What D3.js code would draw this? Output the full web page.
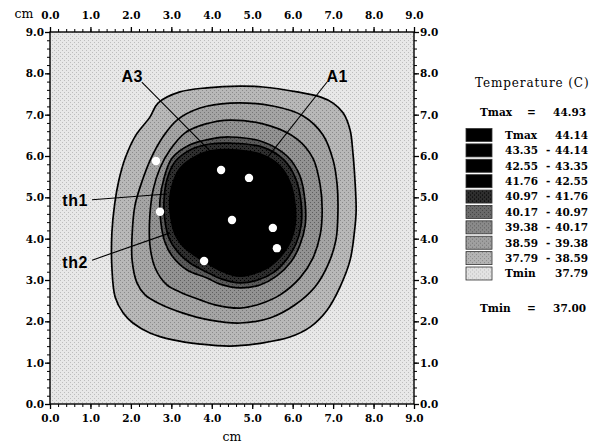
<!DOCTYPE html>
<html>
<head>
<meta charset="utf-8">
<script src="https://cdn.jsdelivr.net/npm/d3@7"></script>
<style>
  body { margin: 0; background: #fff; }
  svg text { font-family: "DejaVu Serif", serif; }
</style>
</head>
<body>
<svg id="chart" width="599" height="445"></svg>
<script>
// axis ticks (cm)
var majorTicks = [0, 1, 2, 3, 4, 5, 6, 7, 8, 9];
var minorTicks = d3.range(0, 45).map(function (i) { return i / 5; });

// contour levels (C) and the boundary of each one, in cm
var levels = [37.79, 38.59, 39.38, 40.17, 40.97, 41.76];

var c3779 = [[2.47,6.94],[2.67,7.28],[3.21,7.55],[3.88,7.65],[4.70,7.69],[5.27,7.67],[6.11,7.55],[6.68,7.43],
  [7.00,7.28],[7.25,7.04],[7.42,6.63],[7.49,6.07],[7.54,5.42],[7.57,4.69],[7.54,4.28],[7.42,3.48],[7.17,2.83],
  [6.85,2.27],[6.43,1.86],[5.93,1.62],[5.27,1.48],[4.45,1.40],[3.71,1.45],[3.04,1.55],[2.47,1.72],[2.05,1.96],
  [1.81,2.20],[1.61,2.59],[1.53,3.31],[1.53,4.14],[1.60,4.85],[1.70,5.40],[1.86,5.95],[2.12,6.50]];
var c3859 = [[2.79,6.46],[3.14,6.87],[3.71,7.16],[4.45,7.28],[5.51,7.21],[6.26,6.97],[6.75,6.51],[7.00,5.90],
  [7.10,5.30],[7.12,4.69],[7.07,3.97],[6.87,3.36],[6.55,2.83],[6.06,2.40],[5.44,2.08],[4.70,1.96],[3.96,2.03],
  [3.29,2.20],[2.72,2.42],[2.35,2.64],[2.15,2.93],[2.03,3.48],[2.03,4.09],[2.10,4.80],[2.28,5.40],[2.50,5.95]];
var c3938 = [[2.97,6.15],[3.34,6.56],[3.83,6.77],[4.45,6.87],[5.44,6.73],[6.11,6.41],[6.50,5.95],[6.68,5.30],
  [6.73,4.69],[6.68,4.09],[6.50,3.53],[6.18,3.05],[5.69,2.64],[5.19,2.42],[4.70,2.32],[4.08,2.40],[3.71,2.52],
  [3.21,2.71],[2.89,2.88],[2.60,3.29],[2.47,3.85],[2.47,4.57],[2.55,5.18],[2.72,5.71]];
var c4017 = [[3.02,5.95],[3.46,6.27],[3.96,6.41],[4.45,6.46],[5.27,6.34],[5.86,6.00],[6.18,5.52],[6.31,4.86],
  [6.31,4.33],[6.18,3.85],[5.96,3.44],[5.61,3.10],[5.19,2.88],[4.70,2.81],[4.20,2.90],[3.88,3.05],[3.39,3.24],
  [3.02,3.58],[2.84,3.92],[2.74,4.40],[2.72,4.94],[2.82,5.47]];
var c4097 = [[3.09,5.86],[3.51,6.17],[3.96,6.29],[4.45,6.31],[5.24,6.22],[5.79,5.90],[6.08,5.44],[6.21,4.86],
  [6.21,4.33],[6.08,3.87],[5.86,3.51],[5.54,3.19],[5.14,3.00],[4.70,2.93],[4.25,3.02],[3.88,3.19],[3.46,3.41],
  [3.14,3.70],[2.94,4.02],[2.84,4.45],[2.82,4.94],[2.89,5.42]];
var c4176 = [[3.21,5.73],[3.61,6.02],[4.01,6.15],[4.50,6.17],[5.19,6.07],[5.69,5.78],[5.96,5.35],[6.08,4.81],
  [6.08,4.33],[5.96,3.92],[5.74,3.58],[5.44,3.31],[5.09,3.15],[4.70,3.07],[4.30,3.17],[3.96,3.34],[3.59,3.56],
  [3.26,3.82],[3.07,4.11],[2.97,4.50],[2.94,4.94],[3.02,5.35]];
var contours = [c3779, c3859, c3938, c4017, c4097, c4176];

// measuring points (cm)
var probes = [[2.62,5.88],[4.23,5.66],[4.92,5.47],[2.72,4.65],[4.50,4.45],[5.51,4.26],[5.61,3.77],[3.81,3.46]];

// labelled probes: text position, pointer start, pointer end (cm)
var annNames = ["A3", "A1", "th1", "th2"];
var annText  = [[2.03,7.94],[7.10,7.94],[0.62,4.94],[0.62,3.44]];
var annFrom  = [[2.27,7.79],[6.85,7.79],[1.04,4.94],[1.04,3.48]];
var annTo    = [[3.96,6.12],[5.19,5.73],[2.89,5.08],[2.97,4.14]];

// legend
var tMax = "44.93", tMin = "37.00";
var legendLow  = ["Tmax","43.35","42.55","41.76","40.97","40.17","39.38","38.59","37.79","Tmin"];
var legendHigh = ["44.14","44.14","43.35","42.55","41.76","40.97","40.17","39.38","38.59","37.79"];

// fills: background, then one per level region
var bgFill = ["#e8e8e8", "#bdbdbd"];
var ringFill = [["#b8b8b8","#8a8a8a"],["#a4a4a4","#767676"],["#929292","#5e5e5e"],
                ["#5a5a5a","#2e2e2e"],["#2e2e2e","#000"],["#000","#000"]];
var legendFill = [["#000","#000"],["#000","#000"],["#000","#000"],["#000","#000"],["#2e2e2e","#000"],
                  ["#6a6a6a","#444"],["#8a8a8a","#5e5e5e"],["#a0a0a0","#767676"],["#b4b4b4","#8a8a8a"],["#e2e2e2","#bbb"]];

var svg = d3.select("#chart");
var x = d3.scaleLinear().domain([0, 9]).range([50, 414]);
var y = d3.scaleLinear().domain([0, 9]).range([404, 32]);

var defs = svg.append("defs");
function stipple(id, c) {
    var p = defs.append("pattern").attr("id", id).attr("patternUnits", "userSpaceOnUse")
        .attr("width", 4).attr("height", 4);
    p.append("rect").attr("width", 4).attr("height", 4).attr("fill", c[0]);
    p.append("rect").attr("x", 0).attr("y", 0).attr("width", 1).attr("height", 1).attr("fill", c[1]);
    p.append("rect").attr("x", 2).attr("y", 2).attr("width", 1).attr("height", 1).attr("fill", c[1]);
    return "url(#" + id + ")";
}
defs.append("clipPath").attr("id", "plotclip").append("rect")
    .attr("x", x(0)).attr("y", y(9)).attr("width", x(9) - x(0)).attr("height", y(0) - y(9));

// plot background
svg.append("rect")
    .attr("x", x(0)).attr("y", y(9))
    .attr("width", x(9) - x(0)).attr("height", y(0) - y(9))
    .attr("fill", stipple("bg", bgFill));

var line = d3.line()
    .x(function (d) { return x(d[0]); })
    .y(function (d) { return y(d[1]); })
    .curve(d3.curveCatmullRomClosed.alpha(0.5));

var plot = svg.append("g").attr("clip-path", "url(#plotclip)");

plot.selectAll("path.region")
    .data(contours)
    .enter().append("path")
    .attr("class", "region")
    .attr("d", line)
    .attr("fill", function (d, i) { return stipple("ring" + i, ringFill[i]); })
    .attr("stroke", function (d, i) { return i < 5 ? "#000" : "none"; })
    .attr("stroke-width", 1.7);

plot.selectAll("circle.probe")
    .data(probes)
    .enter().append("circle")
    .attr("class", "probe")
    .attr("cx", function (d) { return x(d[0]); })
    .attr("cy", function (d) { return y(d[1]); })
    .attr("r", 4.2)
    .attr("fill", "#fff");

// pointers and names
plot.selectAll("line.pointer")
    .data(annNames)
    .enter().append("line")
    .attr("class", "pointer")
    .attr("x1", function (d, i) { return x(annFrom[i][0]); })
    .attr("y1", function (d, i) { return y(annFrom[i][1]); })
    .attr("x2", function (d, i) { return x(annTo[i][0]); })
    .attr("y2", function (d, i) { return y(annTo[i][1]); })
    .attr("stroke", "#000")
    .attr("stroke-width", 1.1);

svg.selectAll("text.ann")
    .data(annNames)
    .enter().append("text")
    .attr("class", "ann")
    .attr("x", function (d, i) { return x(annText[i][0]); })
    .attr("y", function (d, i) { return y(annText[i][1]); })
    .attr("dy", "0.36em")
    .attr("text-anchor", "middle")
    .style("font-family", "'Liberation Sans', Arial, sans-serif")
    .style("font-weight", "bold")
    .style("font-size", "16px")
    .style("letter-spacing", "0.5px")
    .text(function (d) { return d; });

// frame and axes
svg.append("rect")
    .attr("x", x(0)).attr("y", y(9))
    .attr("width", x(9) - x(0)).attr("height", y(0) - y(9))
    .attr("fill", "none").attr("stroke", "#000").attr("stroke-width", 1.4);

var fmt = d3.format(".1f");
function addAxis(axisFn, tr, pad) {
    var minor = svg.append("g").attr("transform", tr)
        .call(axisFn.tickValues(minorTicks).tickSize(3).tickFormat(""));
    minor.select(".domain").remove();
    var major = svg.append("g").attr("transform", tr)
        .call(axisFn.tickValues(majorTicks).tickSize(5).tickPadding(pad).tickFormat(fmt));
    major.select(".domain").remove();
    major.selectAll("text")
        .style("font-family", "'DejaVu Serif', serif")
        .style("font-weight", "bold")
        .style("font-size", "10.5px")
        .attr("fill", "#000");
    major.selectAll("line, path").attr("stroke-width", 1.3);
    minor.selectAll("line").attr("stroke-width", 1);
}
addAxis(d3.axisBottom(x), "translate(0," + y(0) + ")", 6);
addAxis(d3.axisTop(x), "translate(0," + y(9) + ")", 8);
addAxis(d3.axisLeft(y), "translate(" + x(0) + ",0)", 1);
addAxis(d3.axisRight(y), "translate(" + x(9) + ",0)", 1);

svg.append("text").attr("x", 232).attr("y", 441).attr("text-anchor", "middle")
    .style("font-size", "12.5px").text("cm");
svg.append("text").attr("x", 24).attr("y", 18).attr("text-anchor", "middle")
    .style("font-size", "12.5px").text("cm");

// legend
var lg = svg.append("g");
lg.append("text").attr("x", 475).attr("y", 87)
    .style("font-size", "12px").style("letter-spacing", "0.9px")
    .text("Temperature (C)");

function bold(t, xx, yy, anchor) {
    return lg.append("text").attr("x", xx).attr("y", yy).attr("text-anchor", anchor || "start")
        .attr("dy", "0.36em")
        .style("font-weight", "bold").style("font-size", "10.5px").text(t);
}
bold("Tmax", 480, 112);
bold("=", 527, 112);
bold(tMax, 586, 112, "end");
bold("Tmin", 480, 308);
bold("=", 527, 308);
bold(tMin, 586, 308, "end");

var rowY = d3.scaleLinear().domain([0, 9]).range([135, 273.5]);
var rows = lg.selectAll("g.row")
    .data(legendLow)
    .enter().append("g")
    .attr("class", "row")
    .attr("transform", function (d, i) { return "translate(0," + rowY(i) + ")"; });

rows.append("rect")
    .attr("x", 466).attr("y", -6.5).attr("width", 26).attr("height", 13)
    .attr("fill", function (d, i) { return stipple("leg" + i, legendFill[i]); })
    .attr("stroke", "#333").attr("stroke-width", 0.8);

rows.append("text")
    .attr("x", function (d) { return d === "Tmax" || d === "Tmin" ? 505 : 538; })
    .attr("text-anchor", function (d) { return d === "Tmax" || d === "Tmin" ? "start" : "end"; })
    .attr("dy", "0.36em")
    .style("font-weight", "bold").style("font-size", "10.5px")
    .text(function (d) { return d; });

rows.append("text")
    .attr("x", 546).attr("dy", "0.36em")
    .style("font-weight", "bold").style("font-size", "10.5px")
    .text(function (d) { return d === "Tmax" || d === "Tmin" ? "" : "-"; });

rows.append("text")
    .attr("x", 588).attr("text-anchor", "end").attr("dy", "0.36em")
    .style("font-weight", "bold").style("font-size", "10.5px")
    .text(function (d, i) { return legendHigh[i]; });
</script>
</body>
</html>
